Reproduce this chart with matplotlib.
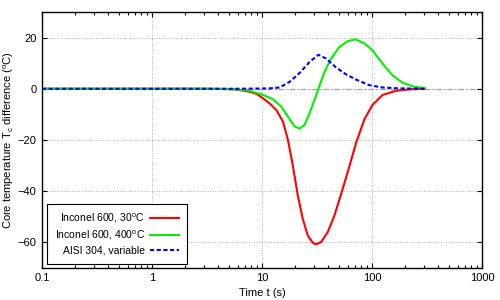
import matplotlib
matplotlib.use("Agg")
import matplotlib.pyplot as plt
from matplotlib.ticker import FixedLocator, FixedFormatter, LogLocator, NullFormatter

# time (s) and core temperature difference (deg C)
t_red = [0.1, 1, 3, 4.5, 5.7, 6.7, 7.74, 8.9, 10.2, 11.7, 13.5, 15.5, 17.2, 19.1, 21.2,
         23.5, 26.1, 29, 31.1, 34.5, 39.6, 45.5, 54, 62.4, 71.6, 85, 101, 125, 165, 218, 300]
y_red = [0, 0, 0, -0.1, -0.3, -0.7, -1.2, -2.0, -3.7, -5.7, -8.3, -12.8, -19.9, -30.2, -41.9,
         -50.9, -57.4, -60.2, -60.8, -59.9, -56, -49.6, -39.3, -30.2, -21.2, -12.1, -6.3, -2.4,
         -0.8, -0.25, 0]

t_green = [0.1, 1, 3, 4.5, 5.7, 6.7, 7.74, 10.2, 12.6, 15, 17.2, 19.8, 22, 24.4, 27.1,
           30, 32.6, 37, 42.5, 50.5, 60.1, 70.7, 85, 101, 125, 153, 190, 241, 300]
y_green = [0, 0, 0, -0.05, -0.2, -0.45, -0.8, -2.4, -4.1, -7, -10.9, -14.7, -15.6, -14.1, -9.5,
           -4.4, 0, 6.6, 11.8, 16.3, 18.6, 19.3, 17.8, 15, 9.8, 5.3, 2.3, 0.8, 0.3]

t_blue = [0.1, 1, 5, 8, 11.7, 14.5, 17.8, 22, 27.1, 32.6, 38.3, 47.2, 58.2, 71.6, 94.5,
          125, 177, 300]
y_blue = [0, 0, 0, 0.05, 0.15, 0.5, 2.7, 6.2, 10.5, 13.3, 11.8, 8.3, 5.6, 3.6, 1.4,
          0.5, 0.15, 0]

labels = ["Inconel 600, 30$^o$C", "Inconel 600, 400$^o$C", "AISI 304, variable"]
x_ticks = [0.1, 1, 10, 100, 1000]
x_ticklabels = ["0.1", "1", "10", "100", "1000"]
y_ticks = [-60, -40, -20, 0, 20]

plt.rcParams["font.family"] = "Liberation Sans"
plt.rcParams["font.size"] = 8
plt.rcParams["mathtext.default"] = "regular"

fig = plt.figure(figsize=(5, 3), dpi=100)
ax = fig.add_axes([0.084, 0.107, 0.88, 0.853])

ax.set_xscale("log")
ax.set_xlim(0.1, 1000)
ax.set_ylim(-70, 30)

ax.axhline(0, color="#999999", lw=0.9, ls=(0, (4, 2, 1, 2)), zorder=1)
ax.grid(True, which="major", color="#b0b0b0", ls=(0, (1, 1.5)), lw=0.7)

ax.plot(t_red, y_red, color="#ff0000", lw=1.5, label=labels[0], zorder=3)
ax.plot(t_green, y_green, color="#00ee00", lw=1.5, label=labels[1], zorder=3)
ax.plot(t_blue, y_blue, color="#0000ff", lw=1.5, ls=(0, (2, 1.2)), label=labels[2], zorder=4)

ax.xaxis.set_major_locator(FixedLocator(x_ticks))
ax.xaxis.set_major_formatter(FixedFormatter(x_ticklabels))
ax.xaxis.set_minor_locator(LogLocator(base=10, subs=range(2, 10)))
ax.xaxis.set_minor_formatter(NullFormatter())
ax.set_yticks(y_ticks)

ax.tick_params(which="both", direction="in", top=True, right=True, width=0.8)
ax.tick_params(which="major", length=3.5, pad=4)
ax.tick_params(which="minor", length=2)
for s in ax.spines.values():
    s.set_linewidth(1.0)

ax.set_xlabel("Time t (s)", labelpad=3)
ax.set_ylabel("Core temperature T$_c$ difference ($^o$C)", labelpad=1)

leg = ax.legend(loc="lower left", bbox_to_anchor=(0.011, 0.016), borderaxespad=0,
                markerfirst=False, fancybox=False, framealpha=1, edgecolor="black",
                fontsize=7.5, handlelength=2.8, labelspacing=0.35, borderpad=0.75,
                handletextpad=0.5)
leg.get_frame().set_linewidth(0.8)

fig.savefig("out.png", dpi=100)
